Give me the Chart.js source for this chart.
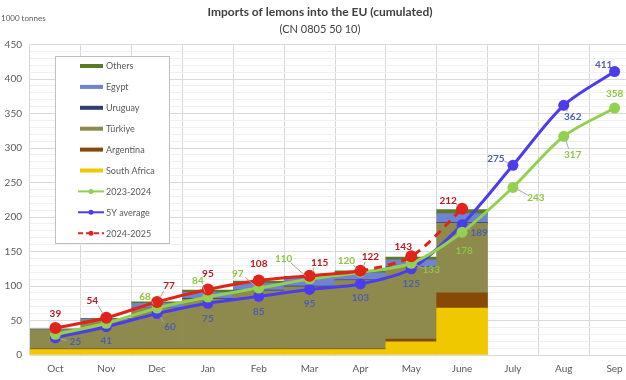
<!DOCTYPE html>
<html>
<head>
<meta charset="utf-8">
<script src="https://cdn.jsdelivr.net/npm/chart.js@4.4.1/dist/chart.umd.min.js"></script>
<style>
  html, body { margin: 0; padding: 0; background: #fff; overflow: hidden; }
  #wrap { width: 626px; height: 380px; overflow: hidden; }
</style>
</head>
<body>
<div id="wrap"><canvas id="lemonChart" width="668" height="380"></canvas></div>
<script>
// Datos (1000 tonnes, acumulado)
const months = ["Oct", "Nov", "Dec", "Jan", "Feb", "Mar", "Apr", "May", "June", "July", "Aug", "Sep"];
const southAfrica = [8, 8, 8, 8, 8, 8, 8, 19, 68, null, null, null];
const argentina = [1, 1, 1, 1, 1, 1, 1, 4, 22, null, null, null];
const turkiye = [27, 41, 59, 72, 84, 90, 99, 104, 101, null, null, null];
const uruguay = [0, 0, 0, 1, 1, 1, 1, 1, 1, null, null, null];
const egypt = [1, 2, 7, 9, 10, 11, 10, 10, 13, null, null, null];
const others = [1, 1, 2, 3, 3, 3, 3, 4, 6, null, null, null];
const season2324 = [30, 46, 68, 84, 97, 110, 120, 133, 178, 243, 317, 358];
const avg5y = [25, 41, 60, 75, 85, 95, 103, 125, 189, 275, 362, 411];
const season2425 = [39, 54, 77, 95, 108, 115, 122, 143, 212, null, null, null];
const yTicks = [0, 50, 100, 150, 200, 250, 300, 350, 400, 450];

const FONT = "Lato, 'Liberation Sans', sans-serif";
const GREY_TXT = "#595959";

// posición de las etiquetas (dx, dy respecto al punto)
const labelOffsets = {
  "2024-2025": [[0, -14], [-14, -17], [12, -16], [0, -16], [0, -17], [10, -13], [10, -14], [-8, -10], [-14, -8]],
  "5Y average": [[20, 4], [0, 14], [13, 13], [0, 16], [0, 15], [0, 14], [0, 14], [0, 15], [17, 8], [-17, -7], [9, 11], [-11, -7]],
  "2023-2024": [null, null, [-12, -11], [-10, -16], [-21, -14], [-26, -20], [-14, -11], [20, 7], [2, 19], [23, 10], [9, 18], [0, -14]],
};
const labelColors = { "2024-2025": "#c0161b", "5Y average": "#4a5fb0", "2023-2024": "#8cc63f" };

function barSet(label, data, color) {
  return {
    type: "bar", label, data, backgroundColor: color, stack: "bars", order: 10,
    categoryPercentage: 1.0, barPercentage: 1.0, borderWidth: 0,
  };
}

function lineSet(label, data, color, order, radius, dashFrom) {
  const ds = {
    type: "line", label, data, borderColor: color, backgroundColor: color,
    borderWidth: 3, pointRadius: radius, pointHoverRadius: radius, pointBorderWidth: 0,
    tension: 0.3, stack: "line-" + label, order, spanGaps: false,
  };
  if (dashFrom != null) {
    ds.segment = { borderDash: (ctx) => (ctx.p0DataIndex >= dashFrom ? [8, 6] : undefined) };
  }
  return ds;
}

// etiquetas de valores
const valueLabels = {
  id: "valueLabels",
  afterDatasetsDraw(chart) {
    const ctx = chart.ctx;
    ctx.save();
    ctx.font = "bold 10px " + FONT;
    ctx.textAlign = "center";
    ctx.textBaseline = "middle";
    chart.data.datasets.forEach((ds, i) => {
      const offs = labelOffsets[ds.label];
      if (!offs) return;
      const meta = chart.getDatasetMeta(i);
      meta.data.forEach((pt, j) => {
        const v = ds.data[j];
        const o = offs[j];
        if (v == null || !o) return;
        const lx = pt.x + o[0], ly = pt.y + o[1];
        const len = Math.hypot(o[0], o[1]);
        if (Math.abs(o[0]) >= 9 && len > 14) {
          const ux = o[0] / len, uy = o[1] / len;
          ctx.strokeStyle = "#a6a6a6";
          ctx.lineWidth = 1;
          ctx.beginPath();
          ctx.moveTo(pt.x + ux * 5, pt.y + uy * 5);
          ctx.lineTo(lx - ux * 9, ly - uy * 6);
          ctx.stroke();
        }
        ctx.fillStyle = labelColors[ds.label];
        ctx.fillText(v, lx, ly);
      });
    });
    ctx.restore();
  },
};

// leyenda dentro del área del gráfico + unidad
const legendOrder = ["Others", "Egypt", "Uruguay", "Türkiye", "Argentina", "South Africa", "2023-2024", "5Y average", "2024-2025"];
const customLegend = {
  id: "customLegend",
  afterDraw(chart) {
    const ctx = chart.ctx;
    ctx.save();
    ctx.fillStyle = GREY_TXT;
    ctx.font = "8px " + FONT;
    ctx.textAlign = "left";
    ctx.textBaseline = "middle";
    ctx.fillText("1000 tonnes", 1, 18);

    const bx = 55, by = 56, bw = 114, bh = 187;
    ctx.fillStyle = "#fff";
    ctx.fillRect(bx, by, bw, bh);
    ctx.strokeStyle = "#bfbfbf";
    ctx.lineWidth = 1;
    ctx.strokeRect(bx + 0.5, by + 0.5, bw, bh);

    legendOrder.forEach((name, k) => {
      const ds = chart.data.datasets.find((d) => d.label === name);
      const y = 66 + k * 20.9;
      ctx.fillStyle = ds.backgroundColor;
      if (ds.type === "bar") {
        ctx.fillRect(80, y - 2, 23, 4);
      } else {
        ctx.strokeStyle = ds.borderColor;
        ctx.lineWidth = 2;
        ctx.setLineDash(name === "2024-2025" ? [5, 3] : []);
        ctx.beginPath();
        ctx.moveTo(78, y);
        ctx.lineTo(104, y);
        ctx.stroke();
        ctx.setLineDash([]);
        ctx.beginPath();
        ctx.arc(91, y, 2.5, 0, Math.PI * 2);
        ctx.fill();
      }
      ctx.fillStyle = GREY_TXT;
      ctx.font = "9px " + FONT;
      ctx.fillText(name, 106, y + 0.5);
    });
    ctx.restore();
  },
};

new Chart(document.getElementById("lemonChart"), {
  data: {
    labels: months,
    datasets: [
      barSet("South Africa", southAfrica, "#f0c800"),
      barSet("Argentina", argentina, "#874a06"),
      barSet("Türkiye", turkiye, "#8e8a4e"),
      barSet("Uruguay", uruguay, "#2f3d70"),
      barSet("Egypt", egypt, "#6f83cf"),
      barSet("Others", others, "#5b7a25"),
      lineSet("5Y average", avg5y, "#4b3cec", 2, 5.5, null),
      lineSet("2023-2024", season2324, "#92d050", 1, 5.5, null),
      lineSet("2024-2025", season2425, "#e0231b", 0, 6, 6),
    ],
  },
  options: {
    responsive: false,
    animation: false,
    layout: { padding: { left: 0, right: 28, top: 0, bottom: 0 } },
    plugins: {
      legend: { display: false },
      tooltip: { enabled: false },
      title: {
        display: true,
        text: "Imports of lemons into the EU (cumulated)",
        color: "#404040",
        font: { family: FONT, size: 12, weight: "bold" },
        padding: { top: 5, bottom: 2 },
      },
      subtitle: {
        display: true,
        text: "(CN 0805 50 10)",
        color: "#404040",
        font: { family: FONT, size: 11 },
        padding: { top: 1, bottom: 9 },
      },
    },
    scales: {
      x: {
        stacked: true,
        afterFit: (scale) => { scale.height = 25; },
        grid: { offset: true, color: "#d9d9d9", drawTicks: false },
        border: { display: false },
        ticks: { color: GREY_TXT, font: { family: FONT, size: 10 }, padding: 8 },
      },
      y: {
        stacked: true,
        min: 0,
        max: 450,
        afterFit: (scale) => { scale.width = 30; },
        afterBuildTicks: (scale) => {
          const t = [];
          for (let v = 0; v <= 450; v += 10) t.push({ value: v });
          scale.ticks = t;
        },
        grid: {
          color: (c) => (c.tick && yTicks.includes(c.tick.value) ? "#d9d9d9" : "#f0f0f0"),
          drawTicks: false,
        },
        border: { display: false },
        ticks: {
          autoSkip: false,
          color: GREY_TXT,
          font: { family: FONT, size: 10 },
          padding: 8,
          callback: (v) => (yTicks.includes(v) ? v : ""),
        },
      },
    },
  },
  plugins: [valueLabels, customLegend],
});
</script>
</body>
</html>
